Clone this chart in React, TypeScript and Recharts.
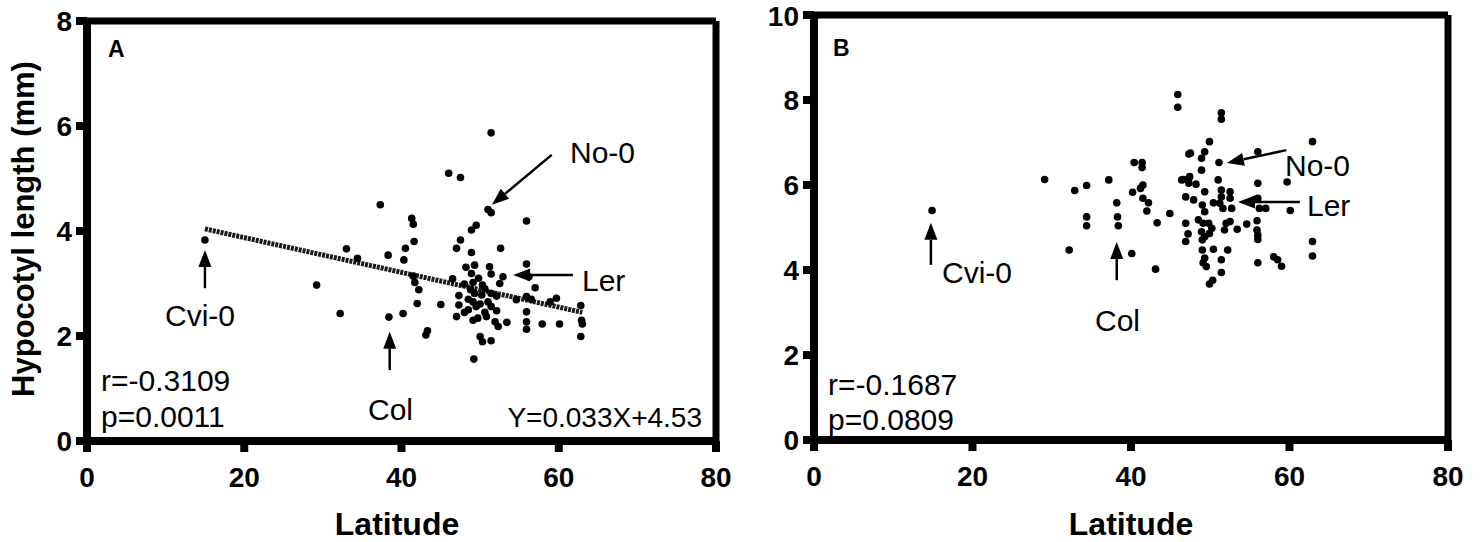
import { ReferenceLine, Scatter, ScatterChart, XAxis, YAxis } from "recharts"

const FONT = '"Liberation Sans", Arial, Helvetica, sans-serif'

const latitudeTicks = [0, 20, 40, 60, 80]
const lengthTicksA = [0, 2, 4, 6, 8]
const lengthTicksB = [0, 2, 4, 6, 8, 10]

// [latitude, hypocotyl length (mm)] per accession, panel A
const accessionsA: [number, number][] = [
  [15.0, 3.83],
  [51.4, 5.87], [46.0, 5.1], [47.5, 5.02], [37.3, 4.5], [51.0, 4.41], [51.4, 4.35], [41.3, 4.24],
  [41.5, 4.13], [49.5, 4.11], [48.9, 4.02], [55.9, 4.19],
  [41.6, 3.8], [47.5, 3.83], [47.0, 3.67], [40.5, 3.67], [33.0, 3.66], [34.4, 3.48], [38.3, 3.54],
  [40.3, 3.45], [48.9, 3.59], [52.6, 3.67],
  [48.2, 3.31], [49.3, 3.35], [51.2, 3.32], [55.9, 3.37], [51.4, 3.18], [48.9, 3.19], [41.5, 3.14],
  [52.9, 3.13], [56.2, 3.13], [41.7, 3.02], [42.2, 2.88], [46.5, 3.09], [48.0, 2.99], [49.1, 3.02],
  [50.3, 2.97], [52.5, 3.0], [57.0, 2.92], [29.2, 2.97], [48.8, 2.88],
  [47.3, 2.77], [49.3, 2.81], [50.2, 2.78], [51.4, 2.81], [52.1, 2.76],
  [54.6, 2.69], [55.9, 2.75], [56.5, 2.7], [58.9, 2.65], [59.7, 2.72], [62.8, 2.58],
  [49.1, 2.65], [50.0, 2.61], [42.0, 2.62], [45.0, 2.6], [47.3, 2.59], [48.5, 2.5], [49.5, 2.56],
  [51.4, 2.56], [52.1, 2.48], [55.9, 2.46],
  [47.0, 2.37], [49.1, 2.3], [49.7, 2.34], [50.8, 2.37], [51.9, 2.27], [52.3, 2.18], [53.4, 2.26],
  [55.9, 2.27], [55.9, 2.13], [57.9, 2.23], [60.1, 2.23], [62.9, 2.3], [63.0, 2.23], [62.8, 1.99],
  [32.2, 2.43], [38.4, 2.36], [40.2, 2.43], [43.3, 2.1], [43.1, 2.02], [50.0, 1.99], [50.3, 1.89],
  [51.4, 1.91], [49.2, 1.56],
  [48.5, 2.7], [50.6, 2.9], [49.8, 3.1], [51.0, 2.65], [48.0, 2.45], [50.6, 2.45],
]

// panel B
const accessionsB: [number, number][] = [
  [14.9, 5.4], [29.1, 6.13], [32.9, 5.87], [34.4, 5.99], [37.2, 6.12], [38.2, 5.58], [34.4, 5.25],
  [38.3, 5.25], [32.2, 4.47],
  [45.9, 8.13], [45.9, 7.83], [47.3, 6.73], [40.4, 6.53], [41.4, 6.53], [41.4, 6.41], [46.4, 6.12],
  [47.3, 6.16], [47.3, 6.04], [41.5, 6.0], [41.2, 5.92], [40.2, 5.83], [41.5, 5.69], [42.2, 5.58],
  [42.0, 5.39], [44.9, 5.33], [43.3, 5.11], [46.9, 5.72], [46.9, 5.1], [47.2, 4.85], [46.9, 4.67],
  [34.4, 5.04], [38.4, 5.04], [40.1, 4.39], [43.1, 4.02],
  [51.4, 7.7], [51.4, 7.55], [49.9, 7.02], [62.9, 7.02], [47.5, 6.75], [49.3, 6.78], [48.9, 6.63],
  [56.0, 6.78], [51.1, 6.53], [48.9, 6.35], [59.7, 6.07], [56.0, 6.04], [46.6, 6.13], [47.4, 6.2],
  [48.2, 6.02], [51.0, 6.12],
  [51.4, 5.88], [52.5, 5.84], [51.4, 5.72], [52.5, 5.69], [47.9, 5.65], [49.3, 5.84], [49.0, 5.53],
  [49.3, 5.37], [50.4, 5.58], [51.2, 5.57], [51.6, 5.45], [52.7, 5.45], [56.0, 5.69], [56.2, 5.45],
  [57.0, 5.45], [60.1, 5.4],
  [48.5, 5.18], [49.1, 5.1], [49.8, 5.1], [50.2, 4.98], [48.9, 4.9], [49.3, 4.78], [49.9, 4.86],
  [49.0, 4.71], [52.0, 5.1], [52.5, 5.14], [51.8, 4.94], [53.4, 4.96], [54.6, 5.08], [55.9, 5.16],
  [55.9, 4.94], [56.0, 4.82], [56.0, 4.72],
  [49.0, 4.47], [50.4, 4.49], [52.2, 4.47], [49.3, 4.28], [49.1, 4.17], [49.5, 4.08], [51.4, 4.24],
  [51.4, 3.94], [50.3, 3.76], [49.9, 3.67], [56.0, 4.17], [58.0, 4.31], [58.5, 4.24], [59.0, 4.09],
  [62.9, 4.67], [62.9, 4.33],
]

// linear fit drawn in panel A, end points
const fitA: [number, number][] = [[15, 4.04], [63, 2.45]]

type Arrow = [[number, number], [number, number]]

// arrows pointing at named accessions (tail, head) in data units
const arrowsA: Arrow[] = [
  [[59.1, 5.45], [51.5, 4.5]], // No-0
  [[61.8, 3.16], [54.2, 3.16]], // Ler
  [[15.0, 2.91], [15.0, 3.64]], // Cvi-0
  [[38.5, 1.35], [38.5, 2.08]], // Col
]
const arrowsB: Arrow[] = [
  [[59.6, 6.82], [52.1, 6.52]],
  [[61.3, 5.6], [53.5, 5.6]],
  [[14.75, 4.12], [14.75, 5.11]],
  [[38.2, 3.76], [38.2, 4.66]],
]

const tickStyle = { fill: "#000", fontSize: 28, fontWeight: "bold", fontFamily: FONT }

const arrowShape = (p: any) => {
  const { x1, y1, x2, y2 } = p
  const a = Math.atan2(y2 - y1, x2 - x1)
  const len = 17
  const half = 6.5
  const bx = x2 - len * Math.cos(a)
  const by = y2 - len * Math.sin(a)
  const nx = -Math.sin(a) * half
  const ny = Math.cos(a) * half
  return (
    <g>
      <line x1={x1} y1={y1} x2={bx} y2={by} stroke="#000" strokeWidth={2.5} />
      <polygon points={`${x2},${y2} ${bx + nx},${by + ny} ${bx - nx},${by - ny}`} fill="#000" />
    </g>
  )
}

const dot = (p: any) => <circle cx={p.cx} cy={p.cy} r={3.8} fill="#000" />

function Panel({
  data, yMax, yTicks, fit, arrows, width, margin, yWidth,
}: {
  data: [number, number][]
  yMax: number
  yTicks: number[]
  fit?: [number, number][]
  arrows: Arrow[]
  width: number
  margin: { top: number; right: number; bottom: number; left: number }
  yWidth: number
}) {
  const rows = data.map(([lat, len]) => ({ lat, len }))
  return (
    <ScatterChart width={width} height={542} margin={margin}>
      <XAxis
        type="number"
        dataKey="lat"
        domain={[0, 80]}
        ticks={latitudeTicks}
        height={60}
        tickSize={11}
        tickMargin={15}
        stroke="#000"
        strokeWidth={8}
        tick={tickStyle}
      />
      <YAxis
        type="number"
        dataKey="len"
        domain={[0, yMax]}
        ticks={yTicks}
        width={yWidth}
        tickSize={11}
        tickMargin={4}
        stroke="#000"
        strokeWidth={8}
        tick={tickStyle}
      />
      <ReferenceLine y={yMax} stroke="#000" strokeWidth={7} />
      <ReferenceLine x={80} stroke="#000" strokeWidth={7} />
      {fit && (
        <ReferenceLine
          segment={fit.map(([x, y]) => ({ x, y }))}
          stroke="#1a1a1a"
          strokeWidth={5}
          strokeDasharray="3 1"
        />
      )}
      {arrows.map(([from, to], i) => (
        <ReferenceLine
          key={i}
          segment={[{ x: from[0], y: from[1] }, { x: to[0], y: to[1] }]}
          shape={arrowShape}
        />
      ))}
      <Scatter data={rows} isAnimationActive={false} shape={dot} />
    </ScatterChart>
  )
}

export default function App() {
  const note = { fontFamily: FONT, fontSize: 30, fill: "#000" }
  const bold = { fontFamily: FONT, fontWeight: "bold" as const, fill: "#000" }
  return (
    <div style={{ position: "absolute", left: 0, top: 0, width: 1484, height: 542, overflow: "hidden", background: "#fff" }}>
      <div style={{ position: "absolute", left: 0, top: 0 }}>
        <Panel
          data={accessionsA}
          yMax={8}
          yTicks={lengthTicksA}
          fit={fitA}
          arrows={arrowsA}
          width={740}
          margin={{ top: 21, right: 24, bottom: 41, left: 0 }}
          yWidth={87}
        />
      </div>
      <div style={{ position: "absolute", left: 740, top: 0 }}>
        <Panel
          data={accessionsB}
          yMax={10}
          yTicks={lengthTicksB}
          arrows={arrowsB}
          width={744}
          margin={{ top: 15, right: 36, bottom: 42, left: 0 }}
          yWidth={74}
        />
      </div>
      <svg width={1484} height={542} style={{ position: "absolute", left: 0, top: 0, pointerEvents: "none" }}>
        <text x={34} y={229} transform="rotate(-90 34 229)" textAnchor="middle" fontSize={31} {...bold}>
          Hypocotyl length (mm)
        </text>
        <text x={397} y={535} textAnchor="middle" fontSize={32} {...bold}>Latitude</text>
        <text x={1131} y={535} textAnchor="middle" fontSize={32} {...bold}>Latitude</text>

        <text x={108} y={57} fontSize={23} {...bold}>A</text>
        <text x={570} y={163} {...note}>No-0</text>
        <text x={582} y={291} {...note}>Ler</text>
        <text x={165} y={326} {...note}>Cvi-0</text>
        <text x={368} y={420} {...note}>Col</text>
        <text x={101} y={391} {...note}>r=-0.3109</text>
        <text x={101} y={427} {...note}>p=0.0011</text>
        <text x={702} y={427} textAnchor="end" {...note} fontSize={28}>Y=0.033X+4.53</text>

        <text x={833} y={56} fontSize={23} {...bold}>B</text>
        <text x={1285} y={176} {...note}>No-0</text>
        <text x={1307} y={216} {...note}>Ler</text>
        <text x={942} y={283} {...note}>Cvi-0</text>
        <text x={1095} y={331} {...note}>Col</text>
        <text x={828} y={395} {...note}>r=-0.1687</text>
        <text x={828} y={430} {...note}>p=0.0809</text>
      </svg>
    </div>
  )
}
